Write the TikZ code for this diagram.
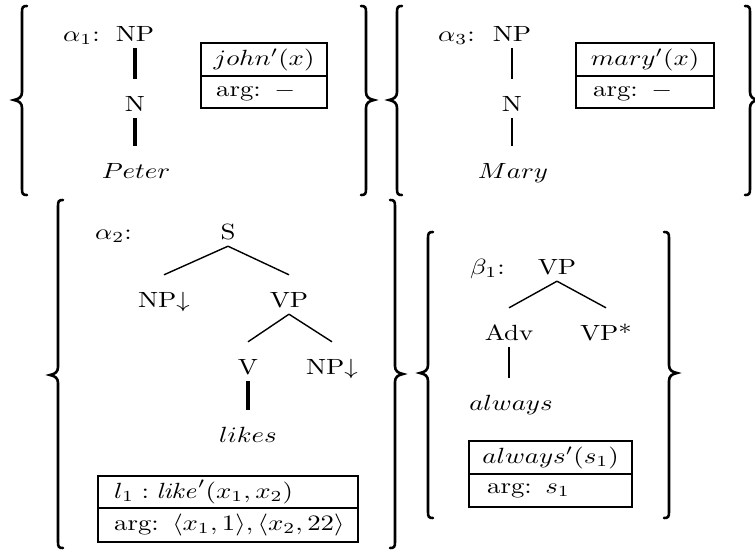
\documentclass[tikz,border=0pt]{standalone}
\usetikzlibrary{calc}
\newcommand{\hs}[1]{\scalebox{2.68}[2.2]{#1}}
\newcommand{\mybrace}[5]{%
 \draw[bracestroke] ({#1+5*(#5)},#2) .. controls ({#1+1*(#5)},#2) and (#1,{#2+1}) .. (#1,{#2+6})
   -- (#1,{#4-8}) .. controls (#1,{#4-3}) and ({#1-3*(#5)},{#4-1}) .. ({#1-8*(#5)},#4)
   .. controls ({#1-3*(#5)},{#4+1}) and (#1,{#4+3}) .. (#1,{#4+8})
   -- (#1,{#3-6}) .. controls (#1,{#3-1}) and ({#1+1*(#5)},#3) .. ({#1+5*(#5)},#3);}
\tikzset{
  every node/.style={font=\normalsize},
  treenode/.style={anchor=base, inner xsep=2pt, inner ysep=7pt, text height=25pt, text depth=0pt},
  lbl/.style={anchor=base west, inner sep=0pt},
  thinedge/.style={line width=1.4pt},
  thickedge/.style={line width=3.5pt},
  bracestroke/.style={line width=2.6pt, line cap=round},
  rowc/.style={draw, line width=2.2pt, anchor=north west, inner sep=0pt},
  rowl/.style={draw, line width=2.2pt, anchor=north west, inner ysep=0pt, align=left},
}
\begin{document}
\begin{tikzpicture}[x=1pt,y=-1pt]
\useasboundingbox (0,0) rectangle (755,552);
% ---------- alpha1 ----------
\mybrace{22}{6}{195}{100}{1}
\mybrace{366}{6}{195}{100}{-1}
\node[lbl] (a1lab) at (63,41) {\hs{$\alpha_1$:}};
\node[treenode] (a1NP) at (135,41) {\hs{NP}};
\node[treenode] (a1N) at (135,111) {\hs{N}};
\node[treenode] (a1P) at (136,178) {\hs{$Peter$}};
\draw[thickedge] (a1NP.south) -- (a1N.north);
\draw[thickedge] (a1N.south) -- (a1N.south |- a1P.north);
\node[rowc, minimum width=126pt, minimum height=33pt] (jb1) at (200,42) {\hs{$john'(x)$}};
\node[rowl, text width=96pt, inner xsep=15pt, minimum height=32pt] (jb2) at (200,75) {\hs{arg: $-$}};
% ---------- alpha3 ----------
\mybrace{397}{6}{195}{100}{1}
\mybrace{750}{6}{195}{100}{-1}
\node[lbl] (a3lab) at (438,41) {\hs{$\alpha_3$:}};
\node[treenode] (a3NP) at (512,41) {\hs{NP}};
\node[treenode] (a3N) at (512,111) {\hs{N}};
\node[treenode] (a3M) at (513,178) {\hs{$Mary$}};
\draw[thinedge] (a3NP.south) -- (a3N.north);
\draw[thinedge] (a3N.south) -- (a3N.south |- a3M.north);
\node[rowc, minimum width=138pt, minimum height=33pt] (mb1) at (575,42) {\hs{$mary'(x)$}};
\node[rowl, text width=104pt, inner xsep=17pt, minimum height=32pt] (mb2) at (575,75) {\hs{arg: $-$}};
% ---------- alpha2 ----------
\mybrace{58}{200}{548}{375}{1}
\mybrace{395}{200}{548}{374}{-1}
\node[lbl] (a2lab) at (95,239) {\hs{$\alpha_2$:}};
\node[treenode] (a2S) at (228,239) {\hs{S}};
\node[treenode] (a2NPa) at (164,307) {\hs{NP$\downarrow$}};
\node[treenode] (a2VP) at (289,307) {\hs{VP}};
\node[treenode] (a2V) at (248,374) {\hs{V}};
\node[treenode] (a2NPb) at (332,374) {\hs{NP$\downarrow$}};
\node[treenode] (a2L) at (248,442) {\hs{$likes$}};
\draw[thinedge] (a2S.south) -- (a2NPa.north);
\draw[thinedge] (a2S.south) -- (a2VP.north);
\draw[thinedge] (a2VP.south) -- (a2V.north);
\draw[thinedge] (a2VP.south) -- (a2NPb.north);
\draw[thickedge] (a2V.south) -- (a2V.south |- a2L.north);
\node[rowl, text width=228pt, inner xsep=16pt, minimum height=32pt] (lb1) at (97,475) {\hs{$l_1 : \mathit{like}'(x_1, x_2)$}};
\node[rowl, text width=228pt, inner xsep=16pt, minimum height=34pt] (lb2) at (97,507) {\hs{arg: $\langle x_1, 1\rangle, \langle x_2, 22\rangle$}};
% ---------- beta1 ----------
\mybrace{428}{232}{518}{373}{1}
\mybrace{669}{232}{518}{373}{-1}
\node[lbl] (b1lab) at (470,274) {\hs{$\beta_1$:}};
\node[treenode] (b1VP) at (557,274) {\hs{VP}};
\node[treenode] (b1Adv) at (509,340) {\hs{Adv}};
\node[treenode] (b1VPs) at (606,340) {\hs{VP*}};
\node[treenode] (b1al) at (511,410) {\hs{$always$}};
\draw[thinedge] (b1VP.south) -- (b1Adv.north);
\draw[thinedge] (b1VP.south) -- (b1VPs.north);
\draw[thinedge] (b1Adv.south) -- (b1Adv.south |- b1al.north);
\node[rowc, minimum width=163pt, minimum height=33pt] (ab1) at (468,440) {\hs{$always'(s_1)$}};
\node[rowl, text width=127pt, inner xsep=18pt, minimum height=33pt] (ab2) at (468,473) {\hs{arg: $s_1$}};
\end{tikzpicture}
\end{document}
